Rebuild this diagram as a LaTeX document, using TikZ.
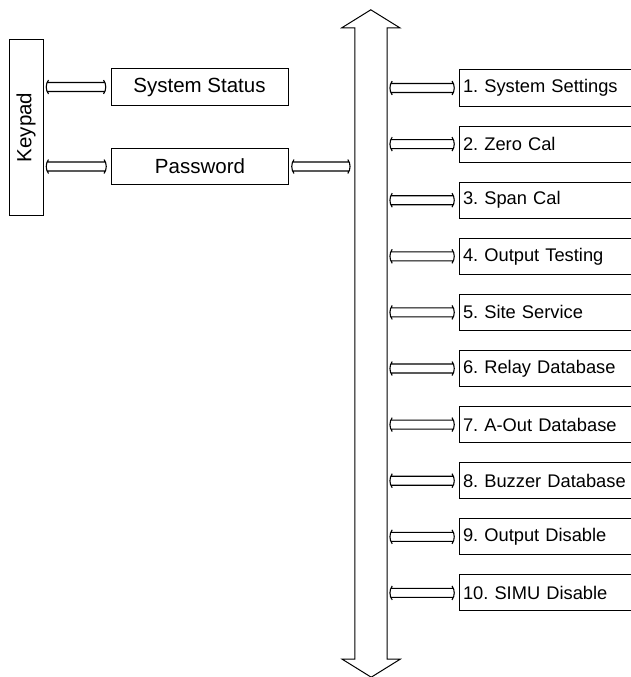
\documentclass[tikz,border=0pt]{standalone}
\usepackage{fontspec}
\setmainfont{Liberation Sans}
\usetikzlibrary{calc}
\frenchspacing
\newcommand{\linkbar}[2]{%
  \draw[linkline] let \p1=(#1), \p2=(#2) in
    (\x1+4pt,\y1+4.5pt) -- (\x2-6pt,\y1+4.5pt)
    (\x1+4pt,\y1-4.5pt) -- (\x2-6pt,\y1-4.5pt)
    (\x1+5pt,\y1+7pt) .. controls (\x1+2pt,\y1+3pt) and (\x1+2pt,\y1-3pt) .. (\x1+5pt,\y1-7pt)
    (\x2-7pt,\y1+7pt) .. controls (\x2-4pt,\y1+3pt) and (\x2-4pt,\y1-3pt) .. (\x2-7pt,\y1-7pt);}
\tikzset{
  boxline/.style={draw=black, line width=1pt},
  linkline/.style={draw=black, line width=1.1pt},
  lbox/.style={boxline, inner sep=0pt, minimum width=177pt, minimum height=36pt, font=\fontsize{20.5}{24}\selectfont},
  rbox/.style={boxline, anchor=west, inner xsep=3.5pt, inner ysep=0pt, text width=175pt, align=left, minimum height=36pt, font=\fontsize{18.3}{22}\selectfont},
}
\begin{document}
\begin{tikzpicture}[x=1pt,y=-1pt]
\useasboundingbox (0,0) rectangle (631,677);
\clip (0,0) rectangle (631,677);
% keypad
\node[boxline, rotate=90, minimum width=175pt, minimum height=34pt, inner sep=0pt, font=\fontsize{20.5}{24}\selectfont] (keypad) at (26,127.5) {Keypad};
% left boxes
\node[lbox] (sys) at (199.5,87) {System Status};
\node[lbox] (pw) at (200,166.5) {Password};
% bus
\node[minimum width=32pt, minimum height=631pt, inner sep=0pt] (bus) at (371,343.5) {};
\draw[boxline] (bus.north west) -- ++(-13,0) -- ++(29,-18) -- ++(29,18) -- (bus.north east)
  -- (bus.south east) -- ++(13,0) -- ++(-29,18) -- ++(-29,-18) -- (bus.south west) -- cycle;
% left links
\linkbar{keypad.south |- sys.west}{sys.west}
\linkbar{keypad.south |- pw.west}{pw.west}
\linkbar{pw.east}{bus.west |- pw.east}
% right boxes
\foreach \i/\t in {1/{1. System Settings},2/{2. Zero Cal},3/{3. Span Cal},4/{4. Output Testing},5/{5. Site Service},6/{6. Relay Database},7/{7. A-Out Database},8/{8. Buzzer Database},9/{9. Output Disable},10/{10. SIMU Disable}}{
  \node[rbox] (m\i) at (459,{88+56.1*(\i-1)}) {\t};
  \linkbar{bus.east |- m\i.west}{m\i.west}
}
\end{tikzpicture}
\end{document}
